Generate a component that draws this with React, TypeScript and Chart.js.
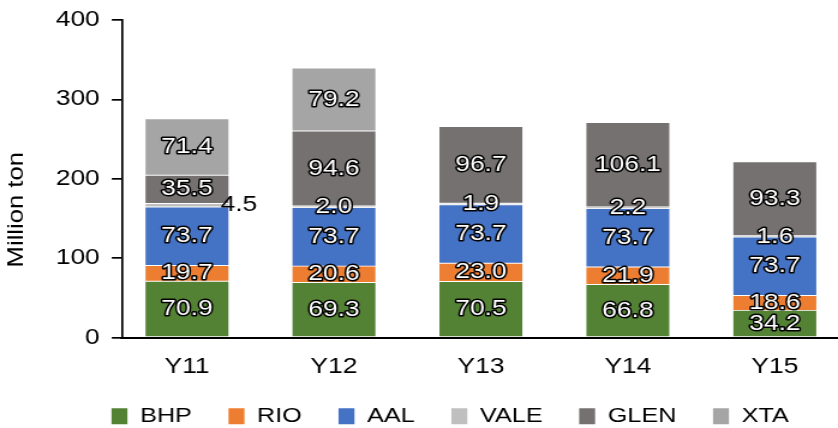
import React, { useEffect, useRef } from 'react';
import { Chart, registerables } from 'chart.js';

Chart.register(...registerables);

// ---- data ----
const categories = ['Y11', 'Y12', 'Y13', 'Y14', 'Y15'];
const seriesNames = ['BHP', 'RIO', 'AAL', 'VALE', 'GLEN', 'XTA'];
const bhp = [70.9, 69.3, 70.5, 66.8, 34.2];
const rio = [19.7, 20.6, 23.0, 21.9, 18.6];
const aal = [73.7, 73.7, 73.7, 73.7, 73.7];
const vale = [4.5, 2.0, 1.9, 2.2, 1.6];
const glen = [35.5, 94.6, 96.7, 106.1, 93.3];
const xta: (number | null)[] = [71.4, 79.2, null, null, null];
const yTickMin = 0;
const yTickMax = 400;
const yTickStep = 100;
const seriesColors = ['#548235', '#ED7D31', '#4472C4', '#BFBFBF', '#767171', '#A5A5A5'];

const allSeries = [bhp, rio, aal, vale, glen, xta];

// ---- rendering setup ----
const FONT = "'Liberation Sans', Arial, Helvetica, sans-serif";
const CANVAS_W = 698;
const CANVAS_H = 428;
const DISPLAY_W = 838;
const SX = DISPLAY_W / CANVAS_W;

const segLabelPlugin = {
  id: 'segLabels',
  afterDatasetsDraw(chart: any) {
    const ctx = chart.ctx;
    ctx.save();
    ctx.font = `22px ${FONT}`;
    ctx.textAlign = 'center';
    ctx.textBaseline = 'middle';
    ctx.lineJoin = 'round';
    chart.data.datasets.forEach((ds: any, di: number) => {
      const meta = chart.getDatasetMeta(di);
      meta.data.forEach((el: any, i: number) => {
        const raw = ds.data[i];
        const v = raw && raw.y;
        if (v == null) return;
        const p = el.getProps(['x', 'y', 'base', 'width'], true);
        const cy = (p.y + p.base) / 2;
        const txt = Number(v).toFixed(1);
        if (di === 3 && i === 0) {
          ctx.fillStyle = '#000';
          ctx.fillText(txt, p.x + p.width / 2 + 8.3, cy);
          return;
        }
        ctx.lineWidth = 3;
        ctx.strokeStyle = '#000';
        ctx.strokeText(txt, p.x, cy);
        ctx.fillStyle = '#fff';
        ctx.fillText(txt, p.x, cy);
      });
    });
    ctx.restore();
  },
};

const yTitlePlugin = {
  id: 'yTitle',
  afterDraw(chart: any) {
    const ctx = chart.ctx;
    ctx.save();
    ctx.translate(13.75, 209.7);
    ctx.scale(1 / SX, 1);
    ctx.rotate(-Math.PI / 2);
    ctx.scale(1.165, 1);
    ctx.font = `22px ${FONT}`;
    ctx.fillStyle = '#000';
    ctx.textAlign = 'center';
    ctx.textBaseline = 'middle';
    ctx.fillText('Million ton', 0, 0);
    ctx.restore();
  },
};

export default function App() {
  const ref = useRef<HTMLCanvasElement>(null);

  useEffect(() => {
    if (!ref.current) return;
    Chart.defaults.font.family = FONT;
    Chart.defaults.color = '#000';
    const datasets = seriesNames.map((name, si) => ({
      label: name,
      data: categories.map((_, i) => ({ x: i, y: allSeries[si][i] })),
      backgroundColor: seriesColors[si],
      borderColor: 'rgba(255,255,255,0.35)',
      borderWidth: 0.8,
      borderSkipped: false,
      barThickness: 70,
    }));
    const chart = new Chart(ref.current, {
      type: 'bar',
      data: { datasets: datasets as any },
      options: {
        animation: false,
        responsive: false,
        maintainAspectRatio: false,
        devicePixelRatio: 1,
        events: [],
        layout: { autoPadding: false, padding: { left: 0, right: -51.8, top: 20, bottom: -8.8 } },
        plugins: {
          tooltip: { enabled: false },
          title: { display: false },
          legend: {
            display: true,
            position: 'bottom',
            align: 'center',
            labels: {
              boxWidth: 13.3,
              boxHeight: 16,
              padding: 30.5,
              color: '#000',
              font: { size: 21, family: FONT, lineHeight: 1 },
              generateLabels: (chart: any) =>
                chart.data.datasets.map((ds: any, i: number) => ({
                  text: ds.label,
                  fillStyle: ds.backgroundColor,
                  strokeStyle: ds.backgroundColor,
                  lineWidth: 0,
                  hidden: false,
                  datasetIndex: i,
                  fontColor: '#000',
                })),
            },
          },
        },
        scales: {
          x: {
            type: 'linear',
            stacked: true,
            offset: false,
            bounds: 'data',
            min: -0.444,
            max: 4.43,
            grid: { display: false, offset: false, drawTicks: false, tickLength: 0 },
            border: { display: true, color: '#000', width: 2 },
            ticks: {
              autoSkip: false,
              maxRotation: 0,
              minRotation: 0,
              padding: 16.3,
              color: '#000',
              font: { size: 22, family: FONT },
              callback: (v: any) => {
                const k = Math.round(Number(v));
                return categories[k] !== undefined ? categories[k] : '';
              },
            },
            afterBuildTicks: (s: any) => {
              s.ticks = categories.map((_, i) => ({ value: i }));
            },
            afterFit: (s: any) => {
              s.height = 37.8;
            },
          },
          y: {
            type: 'linear',
            stacked: true,
            min: yTickMin,
            max: yTickMax,
            grid: {
              display: true,
              drawOnChartArea: false,
              drawTicks: true,
              tickLength: 8.3,
              color: '#000',
              lineWidth: 1.7,
            },
            border: { display: true, color: '#000', width: 1.7 },
            ticks: {
              stepSize: yTickStep,
              padding: 10,
              color: '#000',
              font: { size: 22, family: FONT },
            },
            afterFit: (s: any) => {
              s.width = 101.4;
              s.paddingTop = 0;
              s.paddingBottom = 0;
            },
          },
        },
      } as any,
      plugins: [segLabelPlugin, yTitlePlugin],
    });
    return () => chart.destroy();
  }, []);

  return (
    <div style={{ position: 'absolute', left: 0, top: 0, width: DISPLAY_W, height: CANVAS_H, background: '#fff' }}>
      <canvas
        ref={ref}
        width={CANVAS_W}
        height={CANVAS_H}
        style={{ width: `${DISPLAY_W}px`, height: `${CANVAS_H}px`, display: 'block' }}
      />
    </div>
  );
}
